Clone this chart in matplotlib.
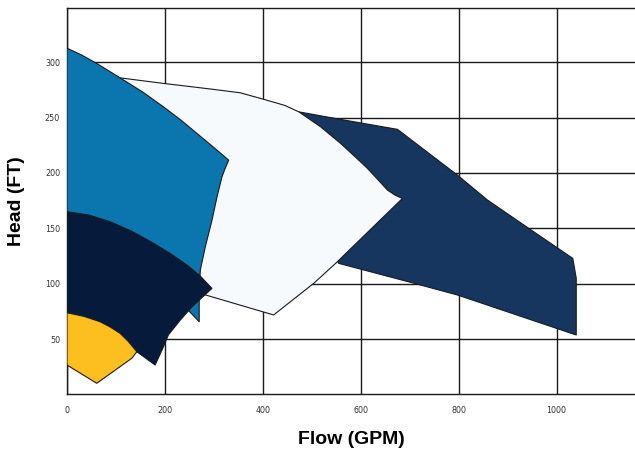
import matplotlib
matplotlib.use("Agg")
import matplotlib.pyplot as plt
from matplotlib.patches import Polygon

# 各泵型工作范围 (Flow GPM, Head FT) — 多边形顶点
white_flow = [108.5, 197, 299.5, 354.1, 410, 445, 473.5, 517.9, 558.8, 590, 613.5, 635, 654.4, 670, 685,
              548.6, 504, 422, 282, 272, 262]
white_head = [285.9, 280.9, 275.5, 272.4, 265.5, 261, 255.2, 241.7, 226.7, 214, 204.2, 194, 184.6, 180, 177,
              118.4, 100.4, 71.8, 90, 100, 200]

dark_flow = [473.5, 558.8, 675, 797.6, 859, 948, 1033, 1040, 1040, 797.6, 709, 555, 500, 450]
dark_head = [255.2, 248.4, 239.4, 198, 175.5, 148.5, 122.9, 105, 53.7, 89.8, 100.4, 118.4, 160, 250]

blue_flow = [0, 30, 60.8, 108.5, 155, 197, 232, 265.5, 300, 330.2, 322, 316.6, 306.4, 296.2, 282.5,
             272.3, 270, 270, 250, 150, 0]
blue_head = [312.7, 306.5, 298.9, 285.9, 273, 259.7, 248, 235.7, 223, 211.6, 203, 196.6, 178.5, 157.5, 133.4,
             112.4, 100, 65.7, 75, 110, 120]

navy_flow = [0, 45, 88, 132, 176.7, 212, 245, 272, 296, 255, 231, 207, 197, 180,
             142.6, 125, 108.5, 88, 67.5, 35, 0]
navy_head = [165, 162, 156, 147.5, 136.5, 127, 116.9, 107, 95.8, 79, 67, 53.7, 43, 26.6,
             38.6, 48, 55.2, 61, 65.7, 70.5, 73.8]

yellow_flow = [0, 35, 67.5, 88, 108.5, 125, 142.6, 132.4, 60.8, 0]
yellow_head = [73.8, 70.5, 65.7, 61, 55.2, 48, 38.6, 32.7, 10.1, 26.6]

x_ticks = [0, 200, 400, 600, 800, 1000]
y_ticks = [50, 100, 150, 200, 250, 300]

fig = plt.figure(figsize=(6.35, 4.51), dpi=100)
ax = fig.add_axes([0.1055, 0.1253, 0.8945, 0.8570])

layers = [
    (white_flow, white_head, "#f6fafc", 3),
    (dark_flow, dark_head, "#17365f", 2),   # 深蓝在白色之下
    (blue_flow, blue_head, "#0b76ad", 4),
    (navy_flow, navy_head, "#061b3b", 5),
    (yellow_flow, yellow_head, "#fcbf1f", 6),
]
for xs, ys, col, z in layers:
    ax.add_patch(Polygon(list(zip(xs, ys)), closed=True, facecolor=col,
                         edgecolor="#1a1a1a", linewidth=0.8, joinstyle="round", zorder=z))

ax.set_xticks(x_ticks)
ax.set_yticks(y_ticks)
ax.grid(True, color="#1a1a1a", linewidth=1.0, zorder=1)
ax.set_axisbelow(True)
ax.tick_params(axis="both", length=0, labelsize=5.8, labelcolor="#333333")
ax.tick_params(axis="x", pad=8)
ax.tick_params(axis="y", pad=5)

ax.set_xlim(0, 1160)
ax.set_ylim(0, 349)

for side in ["left", "bottom", "top"]:
    ax.spines[side].set_color("#1a1a1a")
    ax.spines[side].set_linewidth(1.0)
ax.spines["right"].set_visible(False)

ax.set_xlabel("Flow (GPM)", fontsize=14, fontweight="bold", family="Liberation Sans", labelpad=12)
ax.set_ylabel("Head (FT)", fontsize=14, fontweight="bold", family="Liberation Sans", labelpad=14)

fig.savefig("out.png", dpi=100)
